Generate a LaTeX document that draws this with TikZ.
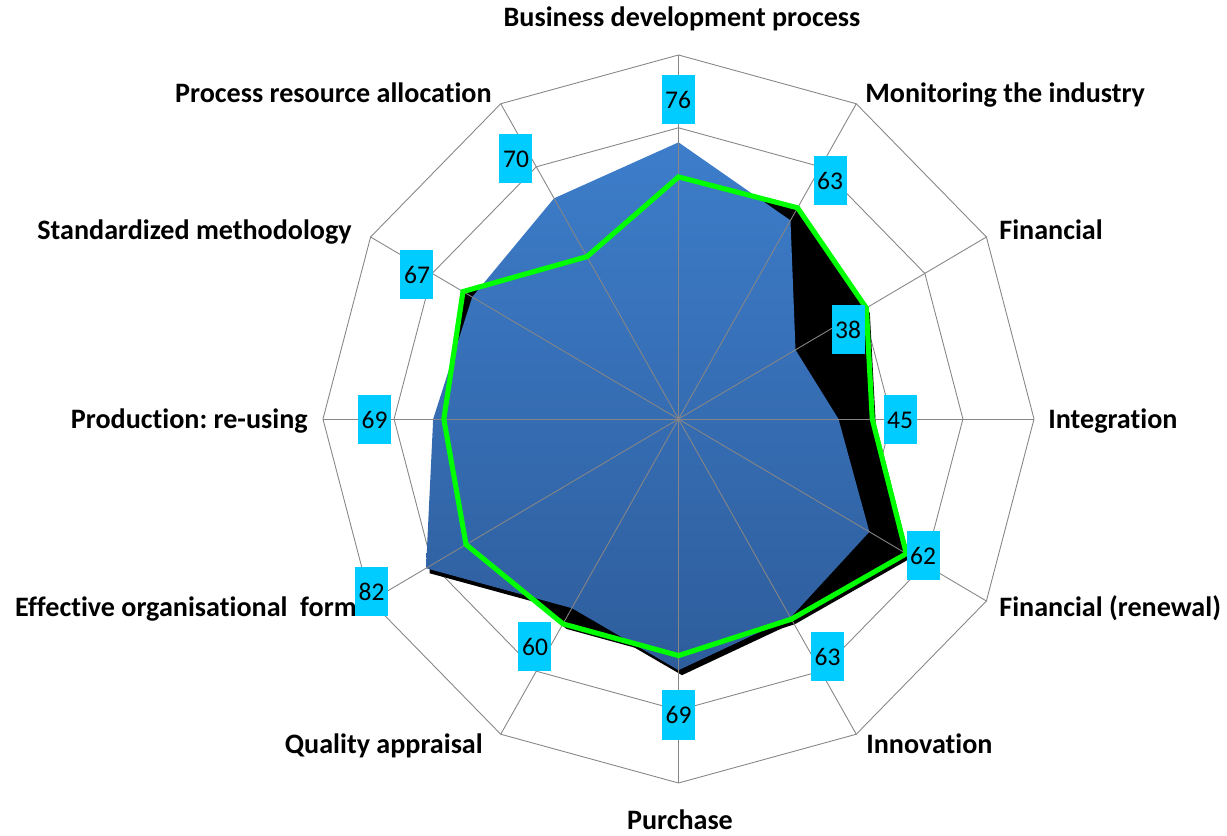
\documentclass[tikz,border=0pt]{standalone}
\usepackage{fontspec}
\setmainfont{Carlito}[Ligatures=NoCommon]
\usepackage{xcolor}
\usepackage{tikz}
\usetikzlibrary{positioning}
\frenchspacing

\definecolor{gridgray}{RGB}{134,134,134}
\definecolor{valcyan}{RGB}{0,204,255}
\definecolor{serblue}{RGB}{61,125,202}
\definecolor{serblued}{RGB}{46,93,156}
\definecolor{sergreen}{RGB}{0,255,0}

\begin{document}
\begin{tikzpicture}[
  grid/.style={draw=gridgray, line width=0.5pt},
  blueser/.style={top color=serblue, bottom color=serblued, draw=none},
  greenser/.style={draw=sergreen, line width=2.9pt, line join=miter},
  cat/.style={font=\fontsize{16}{19}\selectfont\bfseries, inner sep=0pt},
  val/.style={fill=valcyan, minimum width=0.66cm, minimum height=0.98cm, inner sep=0pt, font=\fontsize{14.5}{17}\selectfont}
]
\useasboundingbox (-13.57,-8.34) rectangle (10.97,8.38);

\begin{scope}[x=0.0711cm, y=0.0728cm]
% Rings
\foreach \r in {20,40,60,80,100}
  \draw[grid] (90:\r) \foreach \a in {60,30,...,-240} { -- (\a:\r) } -- cycle;

% Black area (shadow of blue, green series fill)
\fill[black, shift={(0.07cm,-0.1cm)}] (90:76) -- (60:63) -- (30:38) -- (0:45) -- (-30:62) -- (-60:63) -- (-90:69) -- (-120:60) -- (-150:82) -- (180:69) -- (150:67) -- (120:70) -- cycle;
\fill[black] (90:66.5) -- (60:67) -- (30:61) -- (0:54.5) -- (-30:74) -- (-60:63.5) -- (-90:65) -- (-120:65) -- (-150:69) -- (180:66) -- (150:70) -- (120:51.5) -- cycle;
\fill[black, shift={(0.07cm,-0.1cm)}] (90:66.5) -- (60:67) -- (30:61) -- (0:54.5) -- (-30:74) -- (-60:63.5) -- (-90:65) -- (-120:65) -- (-150:69) -- (180:66) -- (150:70) -- (120:51.5) -- cycle;

% Blue series
\path[blueser] (90:76) -- (60:63) -- (30:38) -- (0:45) -- (-30:62) -- (-60:63) -- (-90:69) -- (-120:60) -- (-150:82) -- (180:69) -- (150:67) -- (120:70) -- cycle;

% Spokes
\foreach \a in {90,60,...,-240}
  \draw[grid] (0,0) -- (\a:100);

% Green series
\draw[greenser] (90:66.5) -- (60:67) -- (30:61) -- (0:54.5) -- (-30:74) -- (-60:63.5) -- (-90:65) -- (-120:65) -- (-150:69) -- (180:66) -- (150:70) -- (120:51.5) -- cycle;
\end{scope}

% Category labels
\node[cat, anchor=base] (c0) at (0.07,7.84) {Business development process};
\node[cat, anchor=base west] (c1) at (3.73,6.32) {Monitoring the industry};
\node[cat, anchor=base west] (c2) at (6.41,3.58) {Financial};
\node[cat, anchor=base west] (c3) at (7.39,-0.19) {Integration};
\node[cat, anchor=base west] (c4) at (6.41,-3.95) {Financial (renewal)};
\node[cat, anchor=base west] (c5) at (3.75,-6.69) {Innovation};
\node[cat, anchor=base] (c6) at (0.03,-8.2) {Purchase};
\node[cat, anchor=base east] (c7) at (-3.91,-6.69) {Quality appraisal};
\node[cat, anchor=base east] (c8) at (-6.43,-3.95) {Effective organisational\ \ form};
\node[cat, anchor=base east] (c9) at (-7.41,-0.19) {Production: re-using};
\node[cat, anchor=base east] (c10) at (-6.53,3.58) {Standardized methodology};
\node[cat, anchor=base east] (c11) at (-3.73,6.32) {Process resource allocation};

% Value labels
\node[val] (v0) at (-0.01,6.38) {76};
\node[val] (v1) at (3.03,4.76) {63};
\node[val] (v2) at (3.39,1.78) {38};
\node[val] (v3) at (4.43,-0.02) {45};
\node[val] (v4) at (4.89,-2.74) {62};
\node[val] (v5) at (2.98,-4.76) {63};
\node[val] (v6) at (0,-5.92) {69};
\node[val] (v7) at (-2.87,-4.56) {60};
\node[val] (v8) at (-6.14,-3.46) {82};
\node[val] (v9) at (-6.08,-0.02) {69};
\node[val] (v10) at (-5.23,2.88) {67};
\node[val] (v11) at (-3.25,5.20) {70};

\end{tikzpicture}
\end{document}
